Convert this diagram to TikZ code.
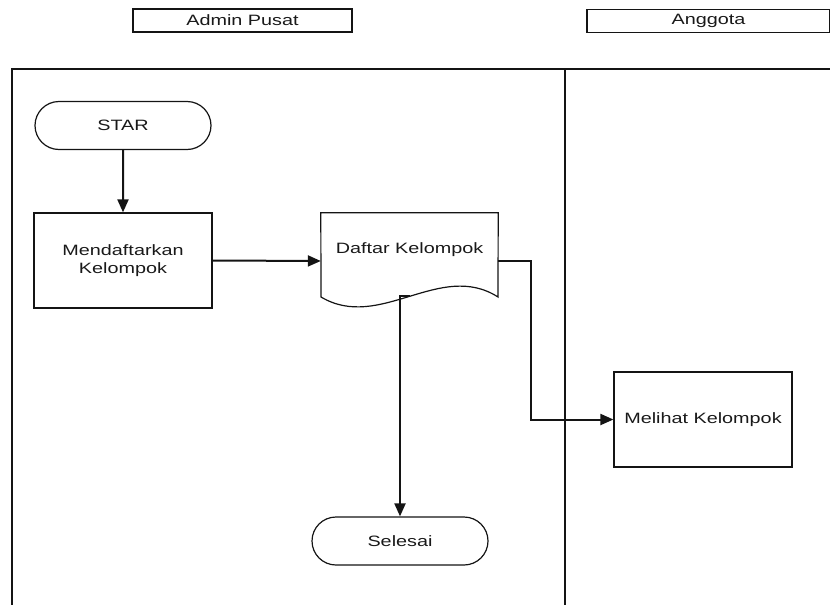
\documentclass[tikz,border=0pt]{standalone}
\usepackage{fontspec}
\setmainfont{Liberation Sans}[FakeStretch=1.32]
\usepackage{tikz}
\usetikzlibrary{shapes,arrows.meta,positioning,calc}
\definecolor{strokeblack}{RGB}{20, 20, 20}
\definecolor{textblack}{RGB}{25, 25, 25}

\begin{document}
\begin{tikzpicture}[x=1pt,y=-1pt,font=\fontsize{15}{18}\selectfont,text=textblack,
    lane/.style={draw=strokeblack,line width=1.3pt},
    headbox/.style={draw=strokeblack,line width=1.1pt,minimum height=23pt,inner sep=0pt},
    procbox/.style={draw=strokeblack,line width=1.2pt,minimum width=178pt,minimum height=95pt,align=center,inner sep=0pt},
    termbox/.style={draw=strokeblack,line width=1.2pt,rounded rectangle,minimum width=176pt,minimum height=48pt,inner sep=0pt},
    flow/.style={draw=strokeblack,line width=2pt,-{Triangle[length=13pt,width=11pt]}}]
    \useasboundingbox (0,0) rectangle (830,605);
    \node[headbox,minimum width=219pt] (admin) at (242.5,20.5) {Admin Pusat};
    \node[headbox,minimum width=243pt] (anggota) at (708.5,21) {Anggota};
    \draw[lane] (12,605) -- (12,69) -- (830,69);
    \draw[lane] (565,69) -- (565,605);
    \node[termbox] (star) at (123,125.5) {STAR};
    \node[procbox] (daftarkan) at (123,260.5) {Mendaftarkan\\Kelompok};
    \node[minimum width=177pt,minimum height=96pt,inner sep=0pt,
          label={[yshift=11pt,inner sep=0pt]center:Daftar Kelompok}] (daftar) at (409.5,261) {};
    \draw[draw=strokeblack,line width=1.2pt] (daftar.north west) -- (daftar.north east) -- (498,297)
        .. controls (440,260) and (380,332) .. (321,297) -- cycle;
    \coordinate (wavemid) at (410,296);
    \node[procbox] (melihat) at (703,419.5) {Melihat Kelompok};
    \node[termbox] (selesai) at (400,541) {Selesai};
    \draw[flow] (star) -- (daftarkan);
    \draw[flow] (daftarkan.east) -- (daftar.west);
    \draw[flow] (daftar.east) -- (531,261) |- (melihat.west);
    \draw[flow] (wavemid) -| (selesai.north);
\end{tikzpicture}
\end{document}
